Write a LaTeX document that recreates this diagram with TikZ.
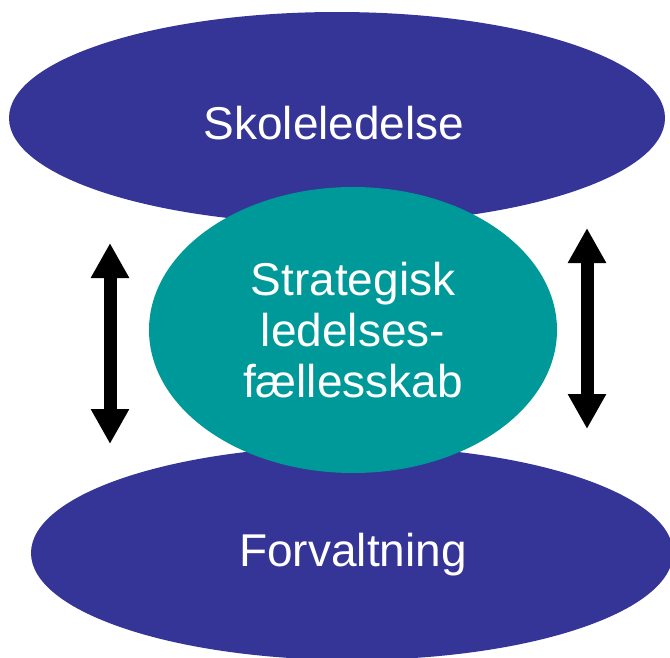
\documentclass[tikz,border=0pt]{standalone}
\usepackage{fontspec}
\setmainfont{Liberation Sans}
\usetikzlibrary{shapes.geometric,arrows.meta}
\definecolor{navyblue}{RGB}{53,52,151}
\definecolor{tealc}{RGB}{0,153,153}
\tikzset{
  blob/.style={ellipse, inner sep=0pt, text=white, font=\fontsize{46}{51}\selectfont, align=center},
  bigarrow/.style={line width=13pt, {Triangle[width=36pt,length=35pt]}-{Triangle[width=36pt,length=35pt]}, black}
}
\begin{document}
\begin{tikzpicture}[x=1pt,y=-1pt]
\useasboundingbox (0,0) rectangle (670,657);
\clip (0,0) rectangle (670,657);
\node[blob, fill=navyblue, minimum width=656pt, minimum height=212pt] (top) at (337,118) {};
\node[text=white, font=\fontsize{46}{51}\selectfont] (toptext) at (334,123) {Skoleledelse};
\node[blob, fill=navyblue, minimum width=642pt, minimum height=214pt] (bottom) at (352,553) {};
\node[text=white, font=\fontsize{46}{51}\selectfont] (bottext) at (353,555) {Forvaltning};
\node[blob, fill=tealc, minimum width=408pt, minimum height=286pt] (mid) at (353,330) {Strategisk\\ledelses-\\fællesskab};
\coordinate (la) at (110,243);
\coordinate (lb) at (110,444);
\coordinate (ra) at (587,228);
\coordinate (rb) at (587,429);
\draw[bigarrow] (la) -- (lb);
\draw[bigarrow] (ra) -- (rb);
\end{tikzpicture}
\end{document}
